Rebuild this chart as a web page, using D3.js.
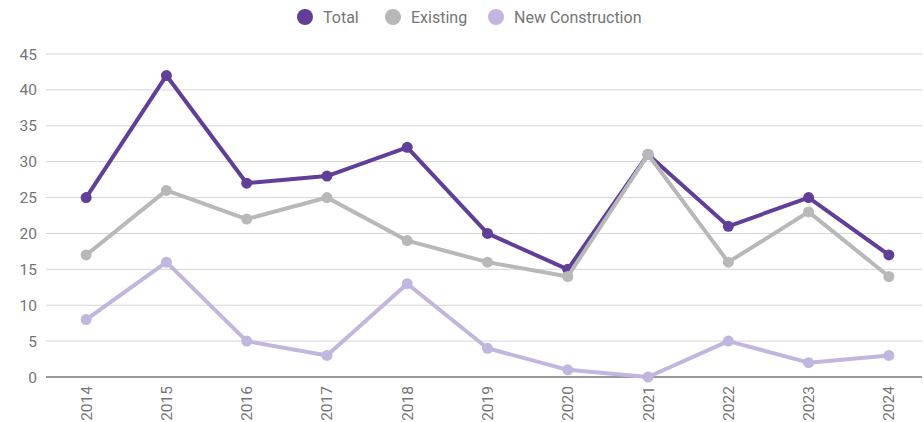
<!DOCTYPE html>
<html>
<head>
<meta charset="utf-8">
<script src="https://cdn.jsdelivr.net/npm/d3@7"></script>
<style>
  body { margin: 0; background: #fff; }
  svg { display: block; font-family: Roboto, sans-serif; }
</style>
</head>
<body>
<div id="chart"></div>
<script>
// chart values
const years = ['2014', '2015', '2016', '2017', '2018', '2019', '2020', '2021', '2022', '2023', '2024'];
const total = [25, 42, 27, 28, 32, 20, 15, 31, 21, 25, 17];
const existing = [17, 26, 22, 25, 19, 16, 14, 31, 16, 23, 14];
const newConstruction = [8, 16, 5, 3, 13, 4, 1, 0, 5, 2, 3];
const yTicks = [0, 5, 10, 15, 20, 25, 30, 35, 40, 45];

const series = [
    { name: 'Total', values: total, color: '#613f98' },
    { name: 'Existing', values: existing, color: '#b8b8b8' },
    { name: 'New Construction', values: newConstruction, color: '#c2b6de' }
];

const width = 924, height = 422;
const margin = { top: 54, right: 2, bottom: 45, left: 46 };

const svg = d3.select('#chart').append('svg')
    .attr('width', width)
    .attr('height', height);

const x = d3.scalePoint()
    .domain(years)
    .range([margin.left, 929])
    .padding(0.5);

const y = d3.scaleLinear()
    .domain([0, 45])
    .range([height - margin.bottom, margin.top]);

// gridlines
svg.append('g')
    .selectAll('line')
    .data(yTicks.filter(d => d > 0))
    .join('line')
        .attr('x1', margin.left)
        .attr('x2', width - margin.right)
        .attr('y1', d => y(d))
        .attr('y2', d => y(d))
        .attr('stroke', '#d4d4d4')
        .attr('stroke-width', 1);

// y labels
svg.append('g')
    .selectAll('text')
    .data(yTicks)
    .join('text')
        .attr('x', 37)
        .attr('y', d => y(d) + 5.5)
        .attr('text-anchor', 'end')
        .attr('fill', '#757575')
        .attr('font-size', '15.5px')
        .text(d => d);

// baseline
svg.append('line')
    .attr('x1', margin.left)
    .attr('x2', width - margin.right)
    .attr('y1', y(0))
    .attr('y2', y(0))
    .attr('stroke', '#333')
    .attr('stroke-width', 1);

// x labels, rotated
svg.append('g')
    .selectAll('text')
    .data(years)
    .join('text')
        .attr('transform', d => `translate(${x(d) + 5.5},${y(0) + 9}) rotate(-90)`)
        .attr('text-anchor', 'end')
        .attr('fill', '#757575')
        .attr('font-size', '15.5px')
        .text(d => d);

const line = d3.line()
    .x((d, i) => x(years[i]))
    .y(d => y(d));

series.forEach(s => {
    const g = svg.append('g');
    g.append('path')
        .datum(s.values)
        .attr('d', line)
        .attr('fill', 'none')
        .attr('stroke', s.color)
        .attr('stroke-width', 4)
        .attr('stroke-linejoin', 'round');
    g.selectAll('circle')
        .data(s.values)
        .join('circle')
            .attr('cx', (d, i) => x(years[i]))
            .attr('cy', d => y(d))
            .attr('r', 5.5)
            .attr('fill', s.color);
});

// legend
const legendPos = [305, 393, 496];
const legend = svg.append('g');
series.forEach((s, i) => {
    legend.append('circle')
        .attr('cx', legendPos[i])
        .attr('cy', 17)
        .attr('r', 8)
        .attr('fill', s.color);
    legend.append('text')
        .attr('x', legendPos[i] + 18)
        .attr('y', 22.5)
        .attr('fill', '#757575')
        .attr('font-size', '16px')
        .text(s.name);
});
</script>
</body>
</html>
